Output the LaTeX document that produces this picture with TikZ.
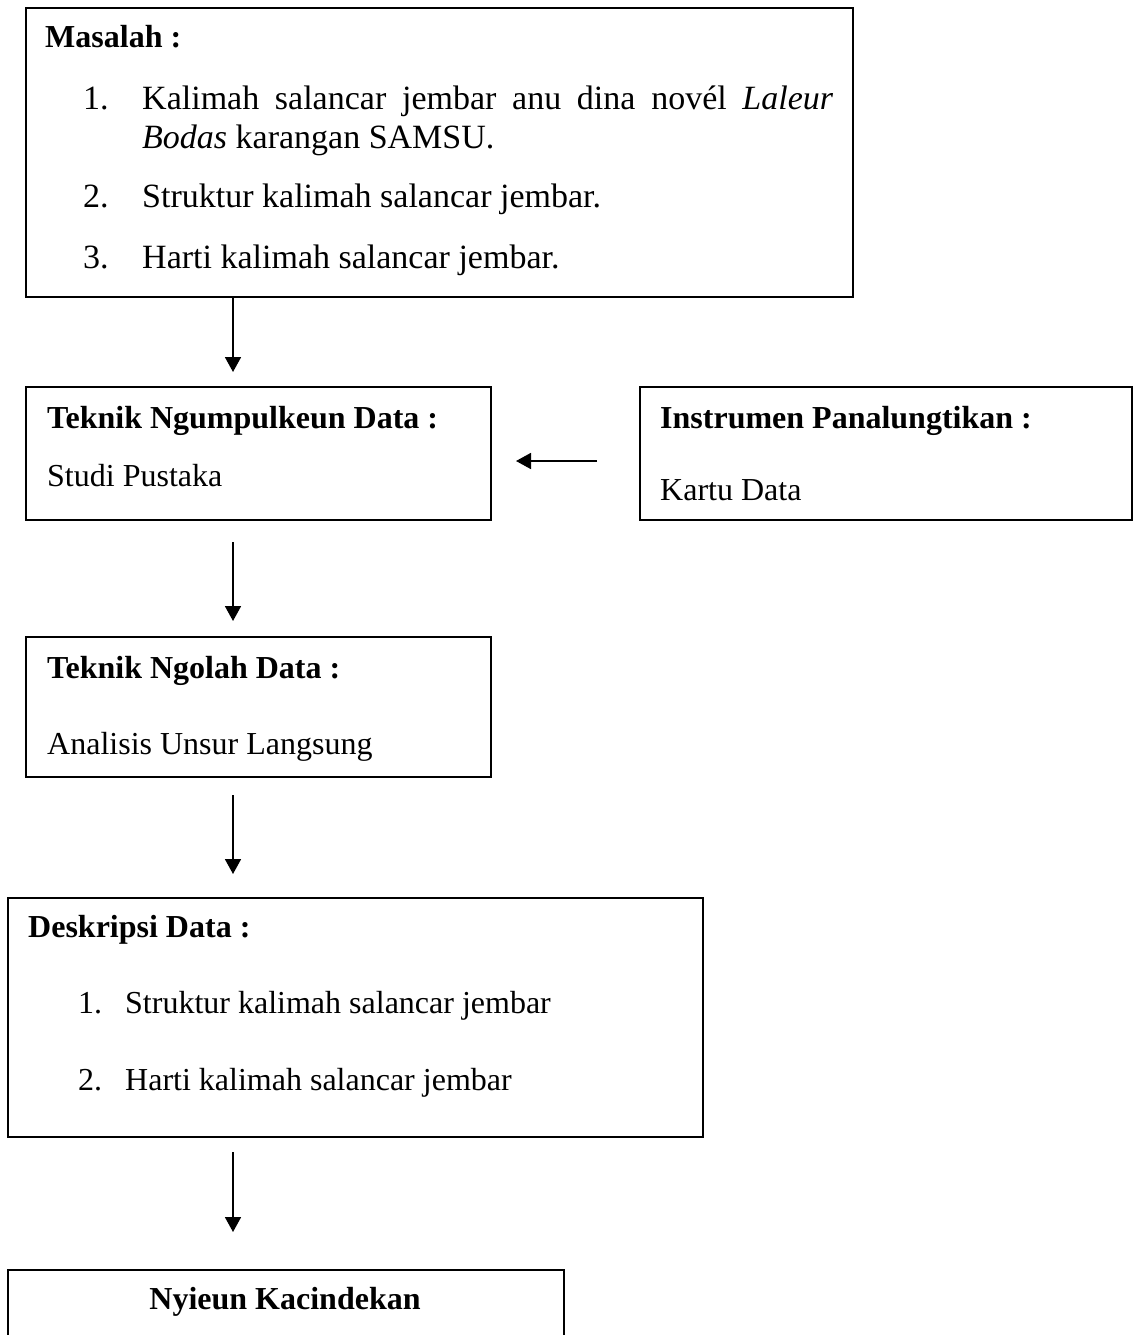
\documentclass[tikz,border=0pt]{standalone}
\usepackage{fontspec}
\setmainfont{Liberation Serif}
\usetikzlibrary{arrows.meta}
\begin{document}
\begin{tikzpicture}[x=1pt,y=-1pt,
  box/.style={draw=black,line width=1.8pt,anchor=north west,inner sep=0pt},
  txt/.style={anchor=base west,inner sep=0pt,font=\fontsize{32}{38}\selectfont},
  big/.style={anchor=base west,inner sep=0pt,font=\fontsize{34}{40}\selectfont},
  ttl/.style={txt,font=\fontsize{32}{38}\selectfont\bfseries},
  arr/.style={line width=1.8pt,-{Triangle[length=15pt,width=16pt]}}]
\useasboundingbox (0,0) rectangle (1136,1335);
\clip (0,0) rectangle (1136,1335);
% boxes
\node[box,minimum width=827pt,minimum height=289pt] (b1) at (25,7) {};
\node[box,minimum width=465pt,minimum height=133pt] (b2) at (25,386) {};
\node[box,minimum width=492pt,minimum height=133pt] (b3) at (639,386) {};
\node[box,minimum width=465pt,minimum height=140pt] (b4) at (25,636) {};
\node[box,minimum width=695pt,minimum height=239pt] (b5) at (7,897) {};
\node[box,minimum width=556pt,minimum height=100pt] (b6) at (7,1269) {};
% box 1 text
\node[ttl] (t1) at (45,48) {Masalah :};
\node[big] (n11) at (83,110) {1.};
\node[big] (i11) at (142,110) {\makebox[691pt][s]{Kalimah salancar jembar anu dina novél \textit{Laleur}}};
\node[big] (i11b) at (142,148) {\textit{Bodas} karangan SAMSU.};
\node[big] (n12) at (83,207) {2.};
\node[big] (i12) at (142,207) {Struktur kalimah salancar jembar.};
\node[big] (n13) at (83,268) {3.};
\node[big] (i13) at (142,268) {Harti kalimah salancar jembar.};
% box 2
\node[ttl] (t2) at (47,428) {Teknik Ngumpulkeun Data :};
\node[txt] (s2) at (47,486) {Studi Pustaka};
% box 3
\node[ttl] (t3) at (660,428) {Instrumen Panalungtikan :};
\node[txt] (s3) at (660,500) {Kartu Data};
% box 4
\node[ttl] (t4) at (47,678) {Teknik Ngolah Data :};
\node[txt] (s4) at (47,754) {Analisis Unsur Langsung};
% box 5
\node[ttl] (t5) at (28,937) {Deskripsi Data :};
\node[txt] (n51) at (78,1013) {1.};
\node[txt] (i51) at (125,1013) {Struktur kalimah salancar jembar};
\node[txt] (n52) at (78,1090) {2.};
\node[txt] (i52) at (125,1090) {Harti kalimah salancar jembar};
% box 6
\node[ttl,anchor=base] (t6) at (285,1309) {Nyieun Kacindekan};
% arrows
\coordinate (a1e) at (233,372);
\coordinate (a2s) at (233,542);
\coordinate (a2e) at (233,621);
\coordinate (a3s) at (233,795);
\coordinate (a3e) at (233,874);
\coordinate (a4s) at (233,1152);
\coordinate (a4e) at (233,1232);
\coordinate (h1s) at (597,461);
\coordinate (h1e) at (516,461);
\draw[arr] (b1.south -| a1e) -- (a1e);
\draw[arr] (a2s) -- (a2e);
\draw[arr] (a3s) -- (a3e);
\draw[arr] (a4s) -- (a4e);
\draw[arr] (h1s) -- (h1e);
\end{tikzpicture}
\end{document}
